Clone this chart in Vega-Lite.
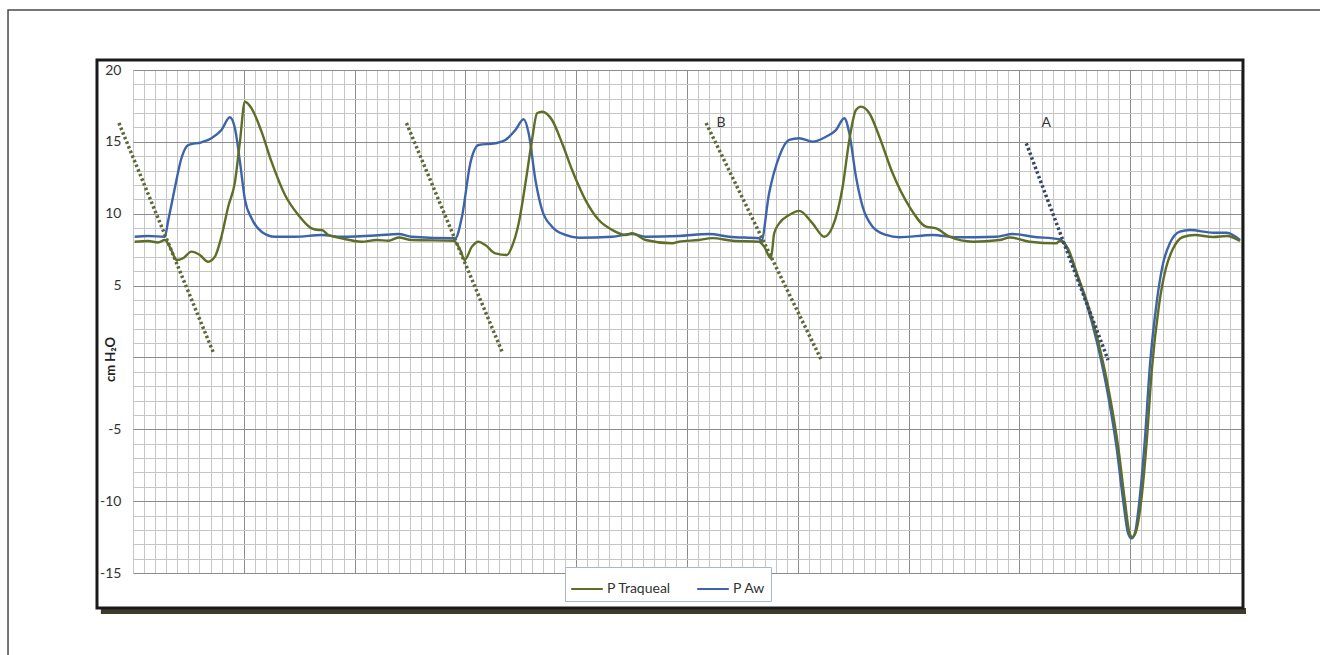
{
  "$schema": "https://vega.github.io/schema/vega-lite/v6.json",
  "autosize": "none",
  "width": 1108,
  "height": 503,
  "padding": {"left": 133, "top": 70, "right": 79, "bottom": 82},
  "background": "white",
  "config": {
    "view": {"stroke": null},
    "font": "Lato"
  },
  "data": {
    "values": [
      {"s":"P Aw","t":0.15,"p":8.4},{"s":"P Aw","t":1.36,"p":8.45},{"s":"P Aw","t":2.87,"p":8.4},{"s":"P Aw","t":3.16,"p":9.45},{"s":"P Aw","t":3.77,"p":11.77},{"s":"P Aw","t":4.37,"p":13.86},{"s":"P Aw","t":4.97,"p":14.78},{"s":"P Aw","t":6.18,"p":14.97},{"s":"P Aw","t":7.08,"p":15.25},{"s":"P Aw","t":7.98,"p":15.82},{"s":"P Aw","t":8.74,"p":16.71},{"s":"P Aw","t":9.2,"p":15.94},{"s":"P Aw","t":9.65,"p":13.62},{"s":"P Aw","t":10.1,"p":11.0},{"s":"P Aw","t":10.7,"p":9.68},{"s":"P Aw","t":11.6,"p":8.75},{"s":"P Aw","t":12.81,"p":8.4},{"s":"P Aw","t":14.62,"p":8.4},{"s":"P Aw","t":17.03,"p":8.52},{"s":"P Aw","t":18.83,"p":8.4},{"s":"P Aw","t":22.15,"p":8.5},{"s":"P Aw","t":23.96,"p":8.59},{"s":"P Aw","t":25.16,"p":8.4},{"s":"P Aw","t":29.09,"p":8.29},{"s":"P Aw","t":29.69,"p":9.79},{"s":"P Aw","t":30.44,"p":13.5},{"s":"P Aw","t":31.19,"p":14.78},{"s":"P Aw","t":32.7,"p":14.9},{"s":"P Aw","t":33.61,"p":15.13},{"s":"P Aw","t":34.51,"p":15.82},{"s":"P Aw","t":35.26,"p":16.57},{"s":"P Aw","t":35.71,"p":15.6},{"s":"P Aw","t":36.32,"p":12.35},{"s":"P Aw","t":36.92,"p":10.26},{"s":"P Aw","t":37.82,"p":9.1},{"s":"P Aw","t":39.03,"p":8.52},{"s":"P Aw","t":40.24,"p":8.33},{"s":"P Aw","t":43.25,"p":8.4},{"s":"P Aw","t":45.05,"p":8.59},{"s":"P Aw","t":46.27,"p":8.4},{"s":"P Aw","t":49.28,"p":8.45},{"s":"P Aw","t":51.99,"p":8.59},{"s":"P Aw","t":53.8,"p":8.4},{"s":"P Aw","t":56.51,"p":8.29},{"s":"P Aw","t":56.7,"p":8.1},{"s":"P Aw","t":57.41,"p":11.42},{"s":"P Aw","t":58.32,"p":13.97},{"s":"P Aw","t":59.22,"p":15.13},{"s":"P Aw","t":60.13,"p":15.25},{"s":"P Aw","t":61.33,"p":15.01},{"s":"P Aw","t":62.54,"p":15.36},{"s":"P Aw","t":63.44,"p":15.82},{"s":"P Aw","t":64.2,"p":16.64},{"s":"P Aw","t":64.65,"p":15.6},{"s":"P Aw","t":65.25,"p":12.58},{"s":"P Aw","t":65.85,"p":10.49},{"s":"P Aw","t":66.75,"p":9.1},{"s":"P Aw","t":67.97,"p":8.52},{"s":"P Aw","t":69.17,"p":8.36},{"s":"P Aw","t":72.18,"p":8.52},{"s":"P Aw","t":74.29,"p":8.36},{"s":"P Aw","t":77.91,"p":8.4},{"s":"P Aw","t":79.41,"p":8.59},{"s":"P Aw","t":81.22,"p":8.4},{"s":"P Aw","t":83.63,"p":8.22},{"s":"P Aw","t":84.24,"p":7.71},{"s":"P Aw","t":85.14,"p":5.85},{"s":"P Aw","t":86.05,"p":3.77},{"s":"P Aw","t":86.95,"p":1.21},{"s":"P Aw","t":87.86,"p":-2.04},{"s":"P Aw","t":88.76,"p":-6.21},{"s":"P Aw","t":89.36,"p":-9.92},{"s":"P Aw","t":89.81,"p":-12.24},{"s":"P Aw","t":90.12,"p":-12.59},{"s":"P Aw","t":90.42,"p":-12.24},{"s":"P Aw","t":90.87,"p":-9.69},{"s":"P Aw","t":91.32,"p":-5.75},{"s":"P Aw","t":91.77,"p":-0.65},{"s":"P Aw","t":92.38,"p":3.77},{"s":"P Aw","t":92.97,"p":6.55},{"s":"P Aw","t":93.58,"p":7.94},{"s":"P Aw","t":94.48,"p":8.75},{"s":"P Aw","t":95.39,"p":8.87},{"s":"P Aw","t":97.5,"p":8.68},{"s":"P Aw","t":98.71,"p":8.68},{"s":"P Aw","t":99.91,"p":8.17},
      {"s":"P Traqueal","t":0.15,"p":8.05},{"s":"P Traqueal","t":1.36,"p":8.1},{"s":"P Traqueal","t":2.26,"p":8.0},{"s":"P Traqueal","t":2.87,"p":8.17},{"s":"P Traqueal","t":3.46,"p":7.47},{"s":"P Traqueal","t":3.92,"p":6.78},{"s":"P Traqueal","t":4.52,"p":6.9},{"s":"P Traqueal","t":5.27,"p":7.36},{"s":"P Traqueal","t":6.03,"p":7.13},{"s":"P Traqueal","t":6.78,"p":6.66},{"s":"P Traqueal","t":7.39,"p":7.01},{"s":"P Traqueal","t":7.98,"p":8.4},{"s":"P Traqueal","t":8.59,"p":10.49},{"s":"P Traqueal","t":9.2,"p":12.2},{"s":"P Traqueal","t":9.65,"p":15.01},{"s":"P Traqueal","t":10.1,"p":17.79},{"s":"P Traqueal","t":10.7,"p":17.33},{"s":"P Traqueal","t":11.6,"p":15.71},{"s":"P Traqueal","t":12.5,"p":13.62},{"s":"P Traqueal","t":13.72,"p":11.3},{"s":"P Traqueal","t":14.92,"p":9.91},{"s":"P Traqueal","t":16.12,"p":8.98},{"s":"P Traqueal","t":16.73,"p":8.87},{"s":"P Traqueal","t":17.03,"p":8.87},{"s":"P Traqueal","t":17.63,"p":8.52},{"s":"P Traqueal","t":18.83,"p":8.29},{"s":"P Traqueal","t":20.64,"p":8.05},{"s":"P Traqueal","t":22.0,"p":8.17},{"s":"P Traqueal","t":23.06,"p":8.12},{"s":"P Traqueal","t":23.96,"p":8.35},{"s":"P Traqueal","t":25.16,"p":8.17},{"s":"P Traqueal","t":28.93,"p":8.12},{"s":"P Traqueal","t":29.54,"p":7.47},{"s":"P Traqueal","t":29.93,"p":6.78},{"s":"P Traqueal","t":30.59,"p":7.71},{"s":"P Traqueal","t":31.19,"p":8.05},{"s":"P Traqueal","t":31.8,"p":7.82},{"s":"P Traqueal","t":32.7,"p":7.24},{"s":"P Traqueal","t":33.75,"p":7.13},{"s":"P Traqueal","t":34.2,"p":7.71},{"s":"P Traqueal","t":34.81,"p":9.33},{"s":"P Traqueal","t":35.42,"p":12.12},{"s":"P Traqueal","t":36.01,"p":15.13},{"s":"P Traqueal","t":36.47,"p":16.99},{"s":"P Traqueal","t":36.92,"p":17.1},{"s":"P Traqueal","t":37.82,"p":16.52},{"s":"P Traqueal","t":38.73,"p":14.9},{"s":"P Traqueal","t":39.63,"p":13.04},{"s":"P Traqueal","t":40.84,"p":10.95},{"s":"P Traqueal","t":42.04,"p":9.56},{"s":"P Traqueal","t":43.25,"p":8.87},{"s":"P Traqueal","t":44.46,"p":8.52},{"s":"P Traqueal","t":45.05,"p":8.64},{"s":"P Traqueal","t":46.27,"p":8.17},{"s":"P Traqueal","t":48.67,"p":7.94},{"s":"P Traqueal","t":49.28,"p":8.05},{"s":"P Traqueal","t":51.08,"p":8.17},{"s":"P Traqueal","t":52.29,"p":8.3},{"s":"P Traqueal","t":54.1,"p":8.12},{"s":"P Traqueal","t":56.51,"p":8.05},{"s":"P Traqueal","t":56.96,"p":7.71},{"s":"P Traqueal","t":57.57,"p":6.9},{"s":"P Traqueal","t":57.87,"p":8.64},{"s":"P Traqueal","t":58.32,"p":9.33},{"s":"P Traqueal","t":59.22,"p":9.91},{"s":"P Traqueal","t":60.13,"p":10.2},{"s":"P Traqueal","t":61.33,"p":9.33},{"s":"P Traqueal","t":62.39,"p":8.4},{"s":"P Traqueal","t":63.14,"p":9.1},{"s":"P Traqueal","t":64.05,"p":11.88},{"s":"P Traqueal","t":64.65,"p":15.13},{"s":"P Traqueal","t":65.25,"p":17.22},{"s":"P Traqueal","t":65.7,"p":17.45},{"s":"P Traqueal","t":66.46,"p":16.99},{"s":"P Traqueal","t":67.36,"p":15.36},{"s":"P Traqueal","t":68.56,"p":12.81},{"s":"P Traqueal","t":70.07,"p":10.49},{"s":"P Traqueal","t":71.58,"p":9.1},{"s":"P Traqueal","t":72.48,"p":8.98},{"s":"P Traqueal","t":73.69,"p":8.4},{"s":"P Traqueal","t":75.8,"p":8.05},{"s":"P Traqueal","t":78.21,"p":8.17},{"s":"P Traqueal","t":79.11,"p":8.35},{"s":"P Traqueal","t":80.92,"p":8.05},{"s":"P Traqueal","t":83.33,"p":7.94},{"s":"P Traqueal","t":83.63,"p":8.1},{"s":"P Traqueal","t":84.36,"p":7.6},{"s":"P Traqueal","t":85.26,"p":5.7},{"s":"P Traqueal","t":86.21,"p":3.6},{"s":"P Traqueal","t":87.12,"p":1.07},{"s":"P Traqueal","t":88.02,"p":-2.1},{"s":"P Traqueal","t":88.93,"p":-6.3},{"s":"P Traqueal","t":89.51,"p":-9.92},{"s":"P Traqueal","t":89.92,"p":-12.15},{"s":"P Traqueal","t":90.19,"p":-12.5},{"s":"P Traqueal","t":90.51,"p":-12.15},{"s":"P Traqueal","t":91.05,"p":-9.6},{"s":"P Traqueal","t":91.5,"p":-5.75},{"s":"P Traqueal","t":91.95,"p":-0.88},{"s":"P Traqueal","t":92.59,"p":3.58},{"s":"P Traqueal","t":93.22,"p":6.2},{"s":"P Traqueal","t":93.85,"p":7.54},{"s":"P Traqueal","t":94.76,"p":8.38},{"s":"P Traqueal","t":95.84,"p":8.52},{"s":"P Traqueal","t":97.47,"p":8.38},{"s":"P Traqueal","t":98.73,"p":8.45},{"s":"P Traqueal","t":99.91,"p":8.1}
    ]
  },
  "layer": [
    {
      "mark": {"type": "line", "strokeWidth": 2.4, "interpolate": "monotone"},
      "encoding": {
        "x": {
          "field": "t", "type": "quantitative",
          "scale": {"domain": [0, 100], "nice": false, "zero": false},
          "axis": {
            "values": [0,1,2,3,4,5,6,7,8,9,10,11,12,13,14,15,16,17,18,19,20,21,22,23,24,25,26,27,28,29,30,31,32,33,34,35,36,37,38,39,40,41,42,43,44,45,46,47,48,49,50,51,52,53,54,55,56,57,58,59,60,61,62,63,64,65,66,67,68,69,70,71,72,73,74,75,76,77,78,79,80,81,82,83,84,85,86,87,88,89,90,91,92,93,94,95,96,97,98,99,100],
            "tickCount": 500,
            "grid": true,
            "gridColor": {"condition": {"test": "datum.value % 10 === 0 && datum.value > 0 && datum.value < 100", "value": "#8c8c8c"}, "value": "#c6c6c6"},
            "gridOpacity": 1,
            "gridWidth": 1,
            "labels": false,
            "ticks": false,
            "domain": false,
            "title": null
          }
        },
        "y": {
          "field": "p", "type": "quantitative",
          "scale": {"domain": [-15, 20], "nice": false, "zero": false},
          "axis": {
            "values": [-15,-14,-13,-12,-11,-10,-9,-8,-7,-6,-5,-4,-3,-2,-1,0,1,2,3,4,5,6,7,8,9,10,11,12,13,14,15,16,17,18,19,20],
            "tickCount": 500,
            "labelOverlap": false,
            "grid": true,
            "gridColor": {"condition": {"test": "datum.value % 5 === 0", "value": "#8c8c8c"}, "value": "#c6c6c6"},
            "gridOpacity": 1,
            "gridWidth": 1,
            "domain": false,
            "ticks": false,
            "labelExpr": "datum.value % 5 === 0 && datum.value !== 0 ? '' + datum.value : ''",
            "labelPadding": 12,
            "labelFontSize": 14,
            "labelColor": "#333333",
            "labelFont": "Lato",
            "title": "cm H₂O",
            "titleFont": "Lato",
            "titleFontSize": 13,
            "titleFontWeight": "bold",
            "titleColor": "#222222",
            "titleAngle": -90,
            "titleAlign": "center",
            "titleBaseline": "middle",
            "titleX": -23,
            "titleY": 289
          }
        },
        "color": {
          "field": "s", "type": "nominal",
          "scale": {"domain": ["P Traqueal", "P Aw"], "range": ["#5e6e26", "#3d64aa"]},
          "legend": {
            "title": null,
            "orient": "none",
            "legendX": 432,
            "legendY": 497,
            "direction": "horizontal",
            "fillColor": "white",
            "strokeColor": "#a8b8c8",
            "padding": 5,
            "symbolType": "stroke",
            "symbolSize": 1000,
            "symbolStrokeWidth": 2,
            "labelFont": "Lato",
            "labelFontSize": 14,
            "labelColor": "#333333",
            "labelOffset": 3,
            "columnPadding": 22
          }
        }
      }
    },
    {
      "data": {"values": [{"frame": "outer"}]},
      "mark": {"type": "rect", "fillOpacity": 0, "stroke": "#4a4a4a", "strokeWidth": 1.5},
      "encoding": {
        "x": {"datum": -11.28, "type": "quantitative"},
        "x2": {"datum": 130},
        "y": {"datum": 24.18, "type": "quantitative"},
        "y2": {"datum": -40}
      }
    },
    {
      "data": {"values": [{"frame": "shadow"}]},
      "mark": {"type": "rect", "fill": "#3d3b2c", "stroke": null},
      "encoding": {
        "x": {"datum": -2.9, "type": "quantitative"},
        "x2": {"datum": 100.45},
        "y": {"datum": -17.44, "type": "quantitative"},
        "y2": {"datum": -17.85}
      }
    },
    {
      "data": {"values": [{"frame": "chart"}]},
      "mark": {"type": "rect", "fillOpacity": 0, "stroke": "#1a1a1a", "strokeWidth": 3},
      "encoding": {
        "x": {"datum": -3.25, "type": "quantitative"},
        "x2": {"datum": 100.18},
        "y": {"datum": 20.7, "type": "quantitative"},
        "y2": {"datum": -17.44}
      }
    },
    {
      "data": {"values": [
        {"g":"1","t":-1.27,"p":16.31},{"g":"1","t":7.23,"p":0.38},
        {"g":"2","t":24.68,"p":16.31},{"g":"2","t":33.36,"p":0.31},
        {"g":"B","t":51.72,"p":16.31},{"g":"B","t":62.12,"p":-0.18}
      ]},
      "mark": {"type": "line", "stroke": "#5b6838", "strokeWidth": 3.5, "strokeDash": [2.5, 2.5], "strokeCap": "butt"},
      "encoding": {
        "x": {"field": "t", "type": "quantitative"},
        "y": {"field": "p", "type": "quantitative"},
        "detail": {"field": "g", "type": "nominal"}
      }
    },
    {
      "data": {"values": [
        {"g":"A","t":80.62,"p":14.9},{"g":"A","t":88.0,"p":-0.18}
      ]},
      "mark": {"type": "line", "stroke": "#34466c", "strokeWidth": 3.5, "strokeDash": [2.5, 2.5], "strokeCap": "butt"},
      "encoding": {
        "x": {"field": "t", "type": "quantitative"},
        "y": {"field": "p", "type": "quantitative"}
      }
    },
    {
      "data": {"values": [
        {"lab":"B","t":53.07,"p":16.31},
        {"lab":"A","t":82.43,"p":16.34}
      ]},
      "mark": {"type": "text", "fontSize": 14, "font": "Lato", "color": "#333333", "align": "center", "baseline": "middle"},
      "encoding": {
        "x": {"field": "t", "type": "quantitative"},
        "y": {"field": "p", "type": "quantitative"},
        "text": {"field": "lab", "type": "nominal"}
      }
    }
  ]
}
